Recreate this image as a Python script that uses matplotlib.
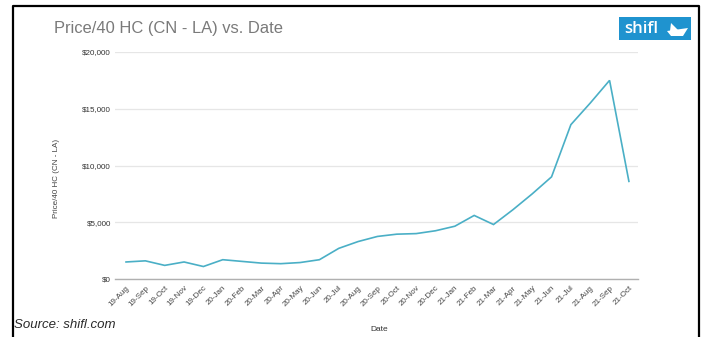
import matplotlib
matplotlib.use("Agg")
import matplotlib.pyplot as plt
from matplotlib.patches import Rectangle, Polygon
import numpy as np

dates = ["19-Aug", "19-Sep", "19-Oct", "19-Nov", "19-Dec", "20-Jan", "20-Feb", "20-Mar",
         "20-Apr", "20-May", "20-Jun", "20-Jul", "20-Aug", "20-Sep", "20-Oct", "20-Nov",
         "20-Dec", "21-Jan", "21-Feb", "21-Mar", "21-Apr", "21-May", "21-Jun", "21-Jul",
         "21-Aug", "21-Sep", "21-Oct"]
prices = [1500, 1600, 1200, 1500, 1100, 1700, 1550, 1400,
          1350, 1450, 1700, 2700, 3300, 3750, 3950, 4000,
          4250, 4650, 5600, 4800, 6100, 7500, 9000, 13600,
          15500, 17500, 8600]
yticks = [0, 5000, 10000, 15000, 20000]
ytick_labels = ["$0", "$5,000", "$10,000", "$15,000", "$20,000"]

plt.rcParams["font.family"] = ["Liberation Sans", "DejaVu Sans"]

W, H = 704, 337
fig = plt.figure(figsize=(W / 100, H / 100), dpi=100)
fig.patch.set_facecolor("white")

def fx(px):
    return px / W

def fy(py):
    return 1 - py / H

ax = fig.add_axes([fx(115), fy(279), fx(638) - fx(115), fy(52) - fy(279)])
x = np.arange(len(dates))
ax.plot(x, prices, color="#4aafc6", lw=1.2, solid_joinstyle="miter", zorder=3)
ax.set_xlim(-0.57, len(dates) - 1 + 0.47)
ax.set_ylim(0, 20000)
ax.set_yticks(yticks)
ax.set_yticklabels(ytick_labels, fontsize=5.8, color="#333333")
ax.set_xticks(x)
ax.set_xticklabels(dates, rotation=45, ha="right", rotation_mode="anchor",
                   fontsize=5.8, color="#444444")
ax.tick_params(axis="both", length=0, pad=3)
ax.tick_params(axis="x", pad=4)
for s in ["top", "right", "left"]:
    ax.spines[s].set_visible(False)
ax.spines["bottom"].set_color("#b0b0b0")
ax.spines["bottom"].set_linewidth(1.0)
ax.grid(axis="y", color="#e6e6e6", lw=0.9)
ax.set_axisbelow(True)
ax.set_ylabel("Price/40 HC (CN - LA)", fontsize=5.8, color="#444444")
ax.yaxis.set_label_coords((60 - 115) / (638 - 115), (279 - 178) / (279 - 52))
ax.set_xlabel("Date", fontsize=6, color="#333333")
ax.xaxis.set_label_coords((379 - 115) / (638 - 115), -(326 - 279) / (279 - 52))

fig.text(fx(54), fy(28), "Price/40 HC (CN - LA) vs. Date", fontsize=11.9, color="#7a7a7a",
         ha="left", va="center")
fig.text(fx(14), fy(325), "Source: shifl.com", fontsize=9.5, style="italic", color="#2a2a2a",
         ha="left", va="center")

# logo
fig.patches.append(Rectangle((fx(619), fy(40)), fx(691) - fx(619), fy(17) - fy(40),
                             transform=fig.transFigure, facecolor="#1f93cf",
                             edgecolor="none", zorder=5))
fig.text(fx(624), fy(29), "shifl", fontsize=12, color="white", fontweight="semibold",
         family=["Open Sans", "DejaVu Sans"], ha="left", va="center", zorder=6)
boat_hull = [(667, 31), (688, 28), (683, 36), (671, 36)]
boat_sail = [(670, 31), (671, 23), (679, 31)]
for poly in (boat_hull, boat_sail):
    fig.patches.append(Polygon([(fx(a), fy(b)) for a, b in poly], closed=True,
                               transform=fig.transFigure, facecolor="white",
                               edgecolor="none", zorder=6))

# outer frame
frame_pts = [(fx(13), 0), (fx(13), fy(6)), (fx(699), fy(6)), (fx(699), 0)]
fig.lines.append(plt.Line2D([p[0] for p in frame_pts], [p[1] for p in frame_pts],
                            transform=fig.transFigure, color="black", lw=1.6))

fig.savefig("out.png", dpi=100, facecolor="white")
